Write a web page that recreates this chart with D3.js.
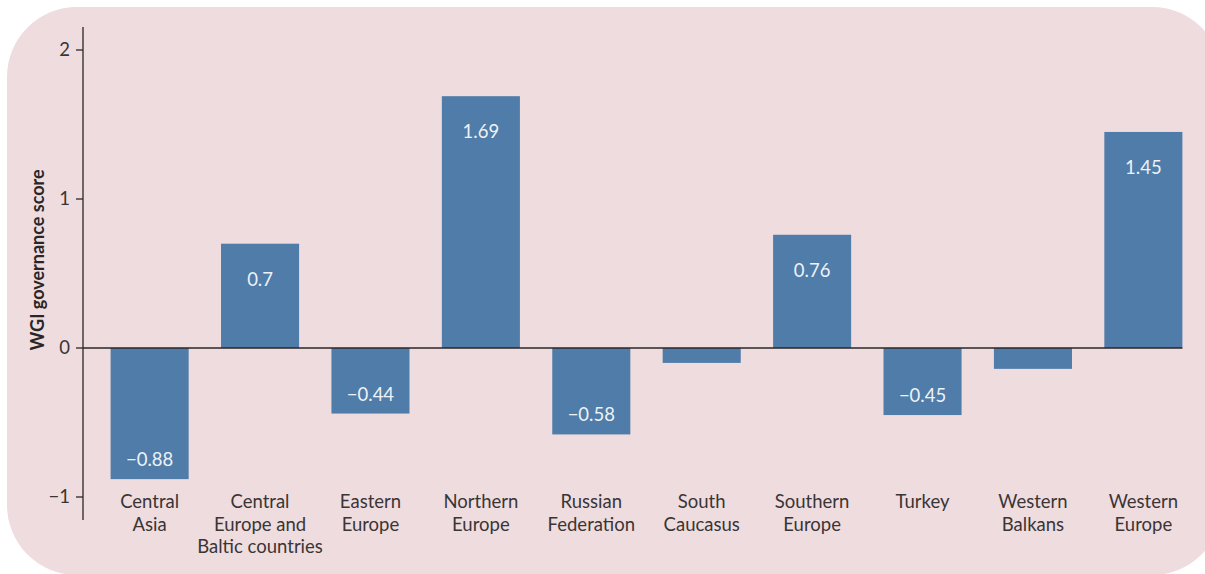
<!DOCTYPE html>
<html><head><meta charset="utf-8">
<script src="https://cdn.jsdelivr.net/npm/d3@7"></script>
<style>body{margin:0;background:#fff}svg{display:block}</style>
</head><body><svg id="c" width="1205" height="574"></svg>
<script>
const categories = [["Central","Asia"],["Central","Europe and","Baltic countries"],["Eastern","Europe"],["Northern","Europe"],["Russian","Federation"],["South","Caucasus"],["Southern","Europe"],["Turkey"],["Western","Balkans"],["Western","Europe"]];
const values = [-0.88, 0.7, -0.44, 1.69, -0.58, -0.1, 0.76, -0.45, -0.14, 1.45];
const valueLabels = ["−0.88","0.7","−0.44","1.69","−0.58","","0.76","−0.45","","1.45"];
const yTicks = [-1, 0, 1, 2];
const yTickLabels = ["−1","0","1","2"];

const svg = d3.select("#c");
const font = "Lato, 'Open Sans', sans-serif";
svg.append("rect").attr("x",7).attr("y",7).attr("width",1215).attr("height",568).attr("rx",70).attr("ry",70).attr("fill","#efdcdf");

const y = d3.scaleLinear().domain([-1,2]).range([497,50]);
const x = d3.scaleBand().domain(d3.range(categories.length)).range([83,1210]).paddingInner(0.293).paddingOuter(0.25);

svg.selectAll("rect.bar").data(values).join("rect").attr("class","bar")
  .attr("x",(d,i)=>x(i)).attr("width",x.bandwidth())
  .attr("y",d=>y(Math.max(0,d))).attr("height",d=>Math.abs(y(d)-y(0)))
  .attr("fill","#4f7ca8");

svg.selectAll("text.val").data(values).join("text").attr("class","val")
  .attr("x",(d,i)=>x(i)+x.bandwidth()/2)
  .attr("y",d=>d>=0 ? y(d)+42 : y(d)-13)
  .attr("text-anchor","middle").attr("fill","#eef2f7")
  .attr("font-family",font).attr("font-size",18.5)
  .text((d,i)=>valueLabels[i]);

// zero line
svg.append("line").attr("x1",83).attr("x2",x(categories.length-1)+x.bandwidth())
  .attr("y1",y(0)).attr("y2",y(0)).attr("stroke","#2a2626").attr("stroke-width",1.3);

// y axis
const ax = svg.append("g").attr("transform","translate(83,0)");
ax.append("line").attr("x1",0).attr("x2",0).attr("y1",27).attr("y2",520).attr("stroke","#2a2626").attr("stroke-width",1.3);
ax.selectAll("line.t").data(yTicks).join("line").attr("class","t")
  .attr("x1",-7).attr("x2",0).attr("y1",d=>y(d)).attr("y2",d=>y(d)).attr("stroke","#2a2626").attr("stroke-width",1.3);
ax.selectAll("text.t").data(yTicks).join("text").attr("class","t")
  .attr("x",-13).attr("y",d=>y(d)).attr("dy","0.35em").attr("text-anchor","end")
  .attr("fill","#3a3535").attr("font-family",font).attr("font-size",18.5)
  .text((d,i)=>yTickLabels[i]);

svg.append("text").attr("transform","translate(44,260) rotate(-90)").attr("text-anchor","middle")
  .attr("fill","#2a2626").attr("font-family",font).attr("font-weight","bold").attr("font-size",18)
  .text("WGI governance score");

// category labels
const cg = svg.selectAll("text.cat").data(categories).join("text").attr("class","cat")
  .attr("text-anchor","middle").attr("fill","#3a3535").attr("font-family",font).attr("font-size",18.5);
cg.each(function(lines,i){
  d3.select(this).selectAll("tspan").data(lines).join("tspan")
    .attr("x",x(i)+x.bandwidth()/2).attr("y",(l,j)=>508+j*22.5).text(l=>l);
});
</script></body></html>
